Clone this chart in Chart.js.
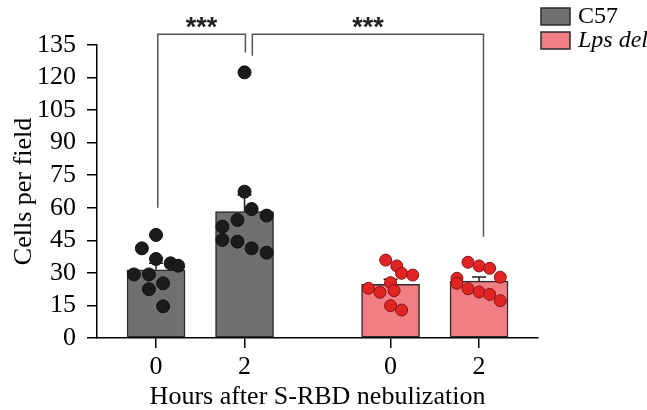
<!DOCTYPE html>
<html>
<head>
<meta charset="utf-8">
<script src="https://cdn.jsdelivr.net/npm/chart.js@4.4.1/dist/chart.umd.min.js"></script>
<style>
  html, body { margin: 0; padding: 0; background: #fff; }
  #chart { display: block; }
</style>
</head>
<body>
<canvas id="chart" width="647" height="410"></canvas>
<script>
// Bar positions on the x axis: two C57 bars, a gap, two Lps del bars
const xPositions = [0, 1, 2.65, 3.65];
const xTickLabels = ['0', '2', '0', '2'];
const xMin = -0.667;
const xMax = 4.316;
const yMin = 0;
const yMax = 135;
const yStep = 15;

// Group means and SEM (hour 0, hour 2)
const c57Means = [31.4, 58.2];
const c57Sem = [3.0, 7.7];
const lpsMeans = [24.7, 26.2];
const lpsSem = [2.4, 1.9];

// Individual fields, with horizontal jitter (in x units)
const c57Hour0 = [47.5, 41.3, 36.4, 34.4, 33.3, 29.3, 29.3, 25.2, 22.5, 14.6];
const c57Hour0Jitter = [0, -0.16, 0, 0.165, 0.25, -0.25, -0.08, 0.08, -0.08, 0.08];
const c57Hour2 = [122.4, 67.4, 59.4, 56.4, 54.4, 51.3, 45.2, 44.4, 41.3, 39.3];
const c57Hour2Jitter = [0, 0, 0.08, 0.25, -0.08, -0.25, -0.25, -0.08, 0.08, 0.25];
const lpsHour0 = [35.9, 33.2, 29.8, 29.0, 25.5, 22.9, 21.1, 21.8, 14.9, 12.9];
const lpsHour0Jitter = [-0.055, 0.07, 0.125, 0.25, 0, -0.25, -0.12, 0.04, 0, 0.125];
const lpsHour2 = [34.9, 33.2, 32.1, 28.0, 27.5, 25.2, 22.7, 21.2, 20.1, 17.2];
const lpsHour2Jitter = [-0.125, 0, 0.12, 0.24, -0.25, -0.25, -0.125, 0, 0.12, 0.24];

// Significance brackets: x ends, where each leg stops, bracket top
const brackets = [
  { from: 0.02, to: 1.01, fromY: 60, toY: 131.5, top: 140, label: '***' },
  { from: 1.088, to: 3.7, fromY: 130, toY: 46.7, top: 140, label: '***' }
];

const serif = "'Liberation Serif', 'Times New Roman', serif";

function toPoints(values, jitter, center) {
  return values.map((v, i) => ({ x: center + jitter[i], y: v }));
}

// Upper error bar drawn right after each bar dataset
const errorBars = {
  id: 'errorBars',
  afterDatasetDraw(chart, args) {
    const ds = chart.data.datasets[args.index];
    if (!ds.sem) return;
    const ctx = chart.ctx;
    const y = chart.scales.y;
    ctx.save();
    ctx.strokeStyle = '#222';
    ctx.lineWidth = 1.5;
    args.meta.data.forEach((bar, i) => {
      const top = y.getPixelForValue(ds.data[i].y + ds.sem[i]);
      ctx.beginPath();
      ctx.moveTo(bar.x, bar.y);
      ctx.lineTo(bar.x, top);
      ctx.moveTo(bar.x - 7, top);
      ctx.lineTo(bar.x + 7, top);
      ctx.stroke();
    });
    ctx.restore();
  }
};

// Brackets with stars, and the legend in the top right corner
const annotations = {
  id: 'annotations',
  afterDraw(chart) {
    const ctx = chart.ctx;
    const x = chart.scales.x;
    const y = chart.scales.y;
    ctx.save();
    ctx.strokeStyle = '#555';
    ctx.lineWidth = 1.5;
    ctx.fillStyle = '#222';
    ctx.font = "bold 27px 'Liberation Sans', Arial, sans-serif";
    ctx.textAlign = 'center';
    ctx.textBaseline = 'alphabetic';
    brackets.forEach((b) => {
      const x1 = x.getPixelForValue(b.from);
      const x2 = x.getPixelForValue(b.to);
      const yt = y.getPixelForValue(b.top);
      ctx.beginPath();
      ctx.moveTo(x1, y.getPixelForValue(b.fromY));
      ctx.lineTo(x1, yt);
      ctx.lineTo(x2, yt);
      ctx.lineTo(x2, y.getPixelForValue(b.toY));
      ctx.stroke();
      ctx.fillText(b.label, (x1 + x2) / 2, yt + 2);
    });

    // legend
    const bars = chart.data.datasets.filter((d) => d.type === 'bar');
    const lx = 541;
    const ly = 8;
    bars.forEach((d, i) => {
      const top = ly + i * 24;
      ctx.fillStyle = d.backgroundColor;
      ctx.fillRect(lx, top, 29, 17);
      ctx.strokeStyle = d.borderColor;
      ctx.lineWidth = 1.5;
      ctx.strokeRect(lx, top, 29, 17);
      ctx.fillStyle = '#000';
      ctx.textAlign = 'left';
      ctx.textBaseline = 'middle';
      ctx.font = (i === 1 ? 'italic ' : '') + '24px ' + serif;
      ctx.fillText(d.label, lx + 37, top + 9);
    });
    ctx.restore();
  }
};

new Chart(document.getElementById('chart'), {
  type: 'bar',
  data: {
    datasets: [
      {
        type: 'scatter',
        label: 'C57 points',
        data: toPoints(c57Hour0, c57Hour0Jitter, xPositions[0])
          .concat(toPoints(c57Hour2, c57Hour2Jitter, xPositions[1])),
        pointRadius: 6.5,
        pointBackgroundColor: '#1b1b1b',
        pointBorderColor: '#111',
        pointBorderWidth: 1,
        order: 0
      },
      {
        type: 'scatter',
        label: 'Lps points',
        data: toPoints(lpsHour0, lpsHour0Jitter, xPositions[2])
          .concat(toPoints(lpsHour2, lpsHour2Jitter, xPositions[3])),
        pointRadius: 6,
        pointBackgroundColor: '#e02323',
        pointBorderColor: '#8a1616',
        pointBorderWidth: 1,
        order: 0
      },
      {
        type: 'bar',
        label: 'C57',
        data: c57Means.map((v, i) => ({ x: xPositions[i], y: v })),
        sem: c57Sem,
        backgroundColor: '#707070',
        borderColor: '#2b2b2b',
        borderWidth: 1.5,
        borderSkipped: false,
        barThickness: 58,
        grouped: false,
        order: 2
      },
      {
        type: 'bar',
        label: 'Lps del',
        data: lpsMeans.map((v, i) => ({ x: xPositions[i + 2], y: v })),
        sem: lpsSem,
        backgroundColor: '#f07e84',
        borderColor: '#2b2b2b',
        borderWidth: 1.5,
        borderSkipped: false,
        barThickness: 58,
        grouped: false,
        order: 2
      }
    ]
  },
  options: {
    responsive: false,
    animation: false,
    events: [],
    layout: { padding: { top: 45, right: 109, left: 0, bottom: 0 } },
    plugins: {
      legend: { display: false },
      tooltip: { enabled: false }
    },
    scales: {
      x: {
        type: 'linear',
        min: xMin,
        max: xMax,
        offset: false,
        afterBuildTicks: (scale) => {
          scale.ticks = xPositions.map((v) => ({ value: v }));
        },
        afterFit: (scale) => { scale.height = 72; },
        ticks: {
          callback: (value, index) => xTickLabels[index],
          color: '#000',
          font: { family: serif, size: 26 },
          padding: 4,
          maxRotation: 0,
          autoSkip: false
        },
        grid: { drawOnChartArea: false, offset: false, color: '#000', lineWidth: 1.5, tickLength: 10 },
        border: { color: '#000', width: 1.5 },
        title: {
          display: true,
          text: 'Hours after S-RBD nebulization',
          color: '#000',
          font: { family: serif, size: 26 },
          padding: { top: 0, bottom: -3 }
        }
      },
      y: {
        min: yMin,
        max: yMax,
        afterFit: (scale) => { scale.width = 97; },
        ticks: {
          stepSize: yStep,
          autoSkip: false,
          color: '#000',
          font: { family: serif, size: 26 },
          padding: 11
        },
        grid: { drawOnChartArea: false, color: '#000', lineWidth: 1.5, tickLength: 10 },
        border: { color: '#000', width: 1.5 },
        title: {
          display: true,
          text: 'Cells per field',
          color: '#000',
          font: { family: serif, size: 26 },
          padding: { top: 9, bottom: 0 }
        }
      }
    }
  },
  plugins: [errorBars, annotations]
});
</script>
</body>
</html>
